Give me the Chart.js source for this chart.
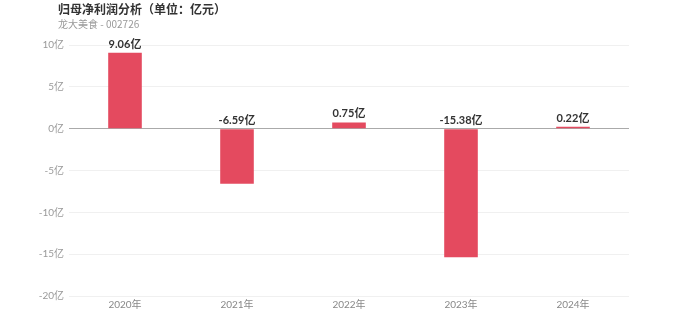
<!DOCTYPE html>
<html>
<head>
<meta charset="utf-8">
<script src="https://cdn.jsdelivr.net/npm/chart.js@4"></script>
<style>
  html, body { margin: 0; padding: 0; background: #fff; }
  #wrap { position: relative; width: 700px; height: 336px; }
  .title { position: absolute; left: 58px; top: 0px; font: bold 12px "Noto Sans CJK SC", sans-serif; color: #333; }
  .sub { position: absolute; left: 58px; top: 16px; font: 10px "Noto Sans CJK SC", sans-serif; color: #999; }
</style>
</head>
<body>
<div id="wrap">
  <canvas id="c" width="700" height="336"></canvas>
  <div class="title">归母净利润分析（单位：亿元）</div>
  <div class="sub">龙大美食 - 002726</div>
</div>
<script>
var years = ["2020年", "2021年", "2022年", "2023年", "2024年"];
var profit = [9.06, -6.59, 0.75, -15.38, 0.22];
var yTicks = [10, 5, 0, -5, -10, -15, -20];

var FONT = 'Lato, "Noto Sans CJK SC", sans-serif';

// value labels: above the bar top, or just above the zero line for losses
var valueLabels = {
  id: 'valueLabels',
  afterDatasetsDraw: function(chart) {
    var ctx = chart.ctx;
    var meta = chart.getDatasetMeta(0);
    var zero = chart.scales.y.getPixelForValue(0);
    ctx.save();
    ctx.font = 'bold 11px ' + FONT;
    ctx.fillStyle = '#333';
    ctx.textAlign = 'center';
    ctx.textBaseline = 'bottom';
    meta.data.forEach(function(bar, i) {
      var v = profit[i];
      var y = v >= 0 ? bar.y : zero;
      ctx.fillText(v.toFixed(2) + '亿', bar.x, y - 3);
    });
    ctx.restore();
  }
};

new Chart(document.getElementById('c'), {
  type: 'bar',
  data: {
    labels: years,
    datasets: [{
      data: profit,
      backgroundColor: '#e44a5f',
      barPercentage: 0.3,
      categoryPercentage: 1
    }]
  },
  options: {
    responsive: false,
    animation: false,
    layout: { padding: { top: 45, right: 71, left: 0, bottom: 0 } },
    plugins: { legend: { display: false }, tooltip: { enabled: false } },
    scales: {
      x: {
        grid: { display: false, drawTicks: false },
        border: { display: false },
        ticks: { color: '#888', font: { size: 10, family: FONT }, padding: 3 },
        afterFit: function(a) { a.height = 40; }
      },
      y: {
        min: -20,
        max: 10,
        afterBuildTicks: function(a) { a.ticks = yTicks.map(function(v) { return { value: v }; }); },
        afterFit: function(a) { a.width = 69; },
        border: { display: false },
        grid: {
          drawTicks: false,
          color: function(c) { return c.tick && c.tick.value === 0 ? '#aaa' : '#f0f0f0'; }
        },
        ticks: {
          color: '#999',
          padding: 5,
          font: { size: 10, family: FONT },
          callback: function(v) { return v + '亿'; }
        }
      }
    }
  },
  plugins: [valueLabels]
});
</script>
</body>
</html>
